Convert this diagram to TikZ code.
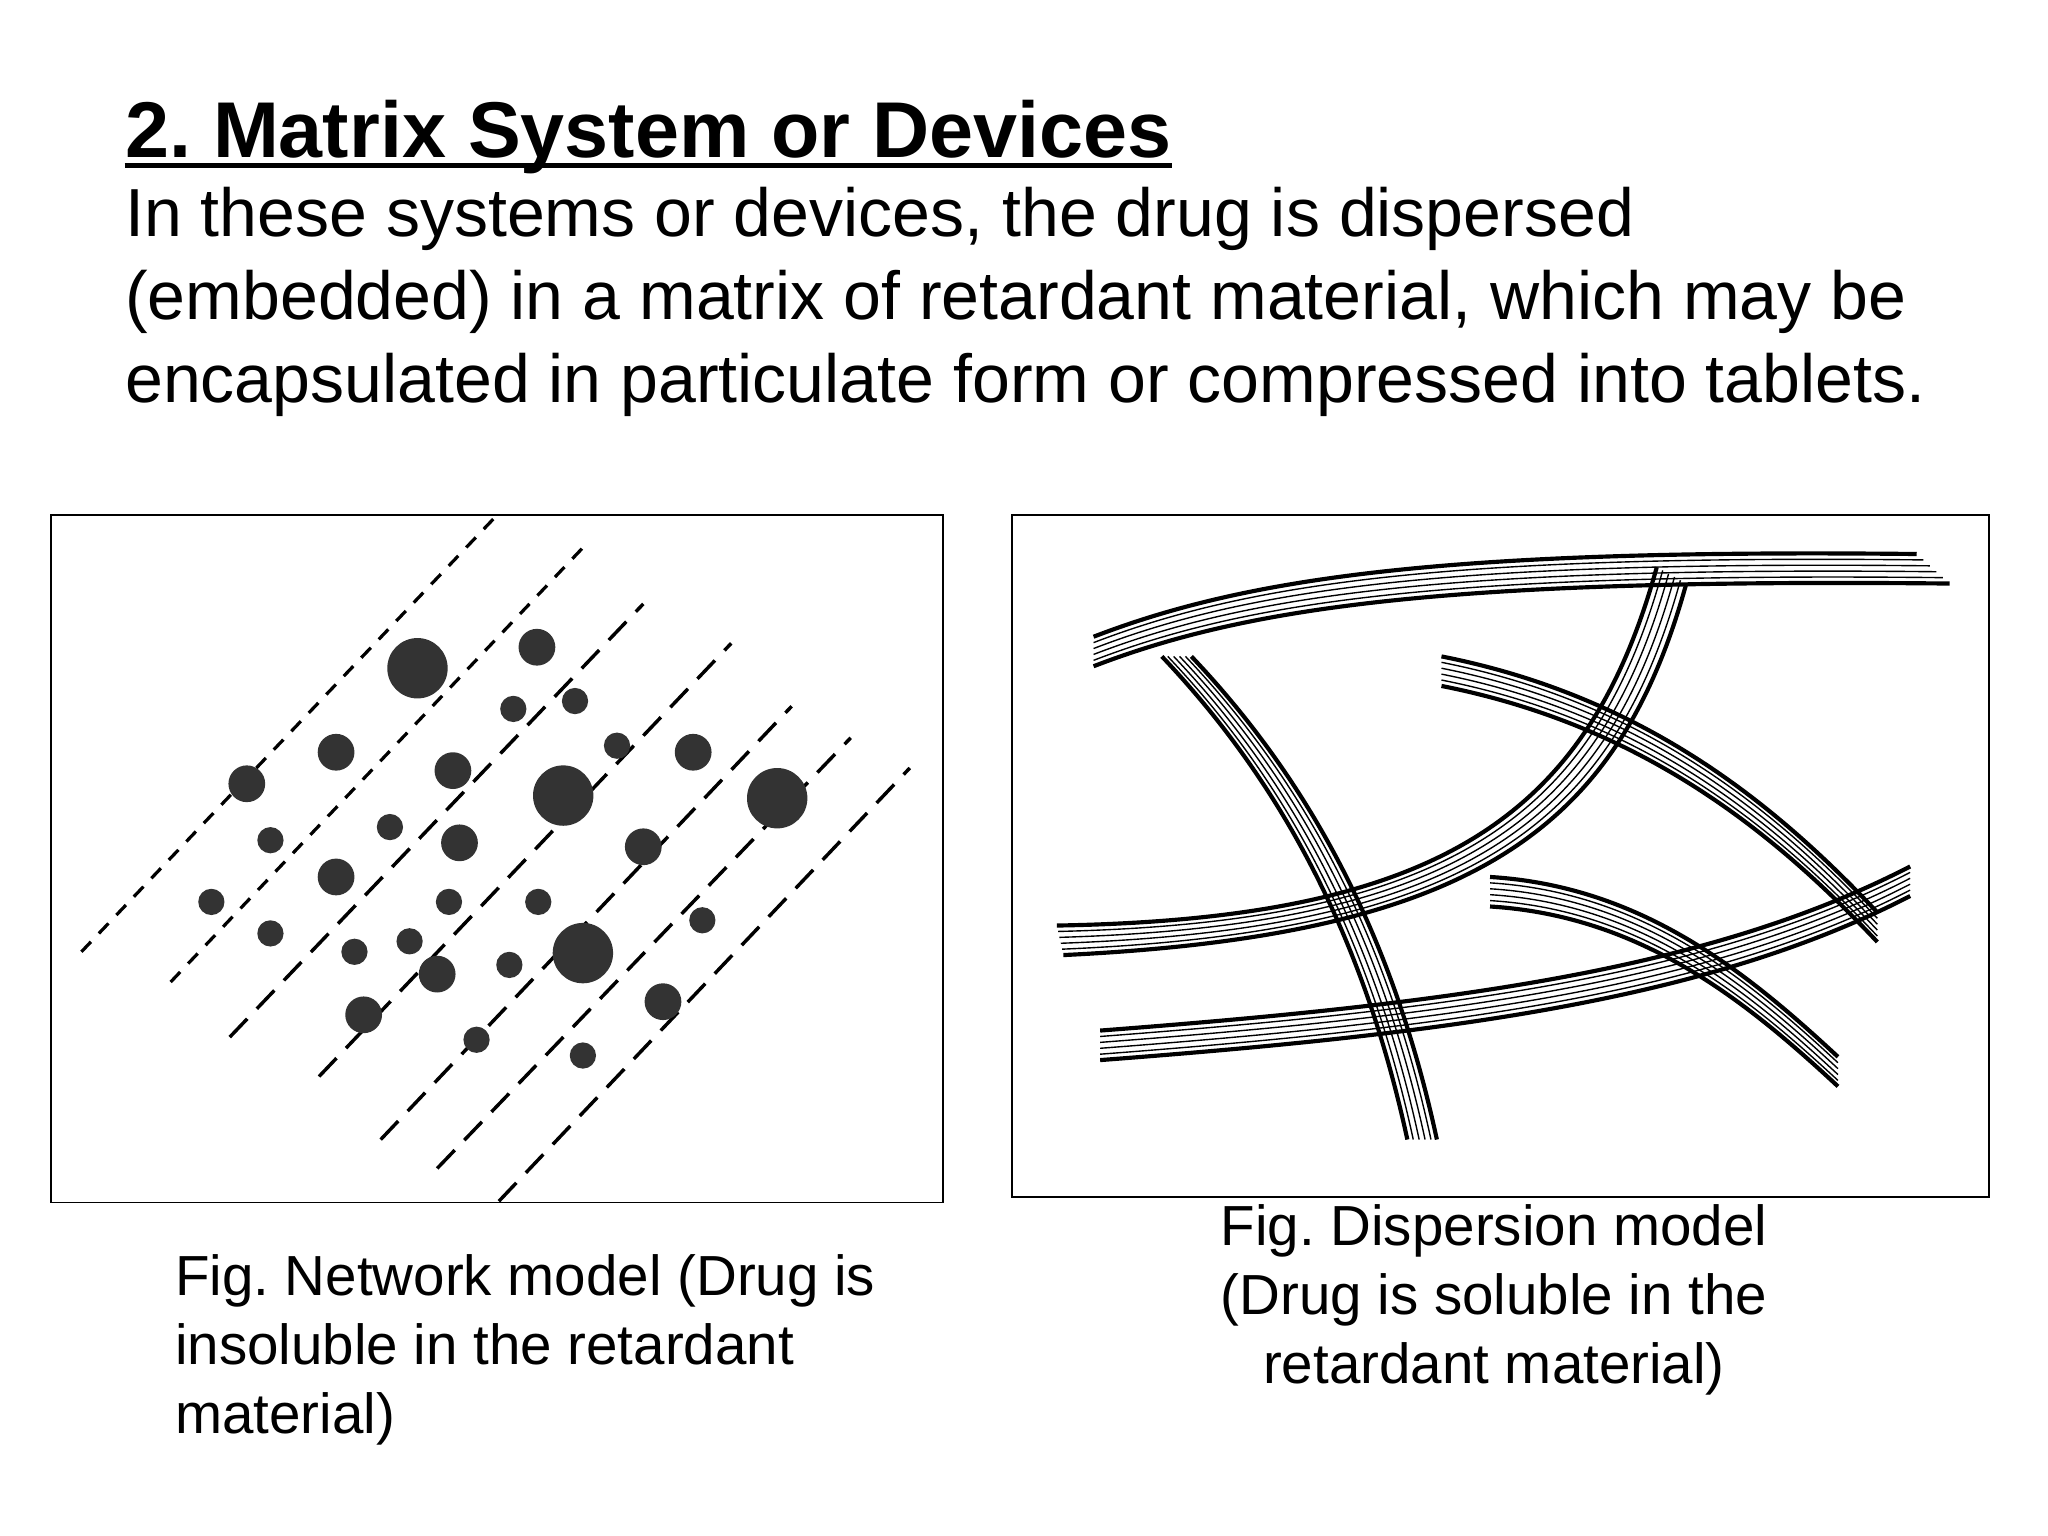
\documentclass[tikz,border=0pt]{standalone}
\usepackage{fontspec}
\setmainfont{Liberation Sans}
\frenchspacing
\begin{document}
\begin{tikzpicture}[x={(0.02cm,0)},y={(0,-0.02cm)},
 dot/.style={fill=black!80},
 dl/.style={line width=1.5pt,dash pattern=on 11pt off 6pt},
 ds/.style={line width=1.4pt,dash pattern=on 6pt off 5pt}]
\useasboundingbox (0,0) rectangle (1560,1170);
\node[anchor=base west,inner sep=0,font=\fontsize{34.3}{40}\selectfont\bfseries] (title) at (95,120) {2. Matrix System or Devices};
\draw[line width=2pt] ([yshift=-0.12cm]title.base west) -- ([yshift=-0.12cm]title.base east);
\node[anchor=north west,inner sep=0,align=left,font=\fontsize{29.5}{36}\selectfont] (body) at (95,142) {In these systems or devices, the drug is dispersed\\(embedded) in a matrix of retardant material, which may be\\encapsulated in particulate form or compressed into tablets.};
\draw[line width=0.8pt] (39,392) rectangle (718,916);
\draw[line width=0.8pt] (771,392) rectangle (1515,912);
% dashed lines
\draw[ds] (62,725) -- (378,393);
\draw[ds] (130,748) -- (447,414);
\draw[dl] (175,790) -- (490,460);
\draw[dl] (243,820) -- (557,490);
\draw[dl] (290,868) -- (603,538);
\draw[dl] (333,890) -- (648,562);
\draw[dl] (380,915) -- (693,585);
\foreach \x/\y/\r in {318/509/23,409/493/14,391/540/10,438/534/10,256/573/14,188/597/14,345/587/14,429/606/23,470/568/10,528/573/14,592/608/23,206/640/10,297/630/10,350/642/14,490/645/14,256/668/14,161/687/10,342/687/10,410/687/10,535/701/10,206/711/10,270/725/10,312/717/10,444/726/23,333/742/14,388/735/10,505/763/14,277/773/14,363/792/10,444/804/10}
  \fill[dot] (\x,\y) circle[radius=\r];
% fibres
\foreach \i in {0,...,5}{
 \pgfmathsetmacro{\w}{(\i==0||\i==5)?1.8:0.6}
 \draw[line width=\w pt] ([yshift=-\i*0.09cm]833,485) .. controls ([yshift=-\i*0.09cm]950,440) and ([yshift=-\i*0.09cm]1100,418) .. ([xshift=\i*0.1cm,yshift=-\i*0.09cm]1460,422);
 \draw[line width=\w pt] ([xshift=\i*0.09cm]885,500) .. controls ([xshift=\i*0.09cm]980,600) and ([xshift=\i*0.09cm]1040,720) .. ([xshift=\i*0.09cm]1072,868);
 \draw[line width=\w pt] ([xshift=\i*0.09cm,yshift=-\i*0.05cm]1262,432) .. controls ([xshift=\i*0.09cm,yshift=-\i*0.05cm]1210,620) and ([xshift=\i*0.09cm,yshift=-\i*0.05cm]1100,700) .. ([xshift=\i*0.02cm,yshift=-\i*0.09cm]805,705);
 \draw[line width=\w pt] ([yshift=-\i*0.09cm]1098,500) .. controls ([yshift=-\i*0.09cm]1250,530) and ([yshift=-\i*0.09cm]1350,610) .. ([yshift=-\i*0.09cm]1430,695);
 \draw[line width=\w pt] ([yshift=-\i*0.09cm]838,785) .. controls ([yshift=-\i*0.09cm]1100,765) and ([yshift=-\i*0.09cm]1300,740) .. ([yshift=-\i*0.09cm]1455,660);
 \draw[line width=\w pt] ([yshift=-\i*0.09cm]1135,668) .. controls ([yshift=-\i*0.09cm]1250,675) and ([yshift=-\i*0.09cm]1330,740) .. ([yshift=-\i*0.09cm]1400,805);
}
\node[anchor=north west,inner sep=0,align=left,font=\fontsize{24.5}{30}\selectfont] (capL) at (133,955) {Fig. Network model (Drug is\\insoluble in the retardant\\material)};
\node[anchor=north,inner sep=0,align=center,font=\fontsize{24.5}{30}\selectfont] (capR) at (1138,917) {Fig. Dispersion model\\(Drug is soluble in the\\retardant material)};
\end{tikzpicture}
\end{document}
